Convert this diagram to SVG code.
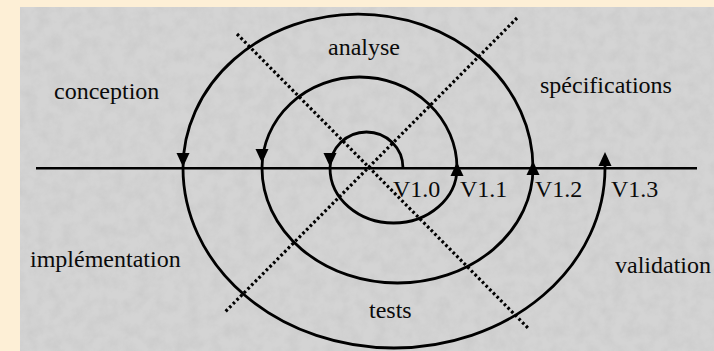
<svg xmlns="http://www.w3.org/2000/svg" width="714" height="351" viewBox="0 0 714 351">
  <style>
    .lbl { font-family: "Liberation Serif", "Times New Roman", serif; font-size: 24px; fill: #0a0a0a; }
    .spiral { fill: none; stroke: #000; stroke-width: 2.8; }
    .axis { stroke: #000; stroke-width: 2.6; }
    .dots { stroke: #000; stroke-width: 3.2; stroke-dasharray: 2.6 2.6; }
    .ah { fill: #000; }
  </style>
  <defs>
    <filter id="tex" x="0" y="0" width="100%" height="100%">
      <feTurbulence type="fractalNoise" baseFrequency="0.08" numOctaves="4" seed="4" result="n"/>
      <feColorMatrix type="matrix" in="n" values="0 0 0 0 0.55  0 0 0 0 0.55  0 0 0 0 0.55  0.9 0 0 0 -0.3" result="g"/>
      <feComposite in="g" in2="SourceGraphic" operator="in"/>
    </filter>
    <path id="arr" d="M0,0 L-6.5,-14 L6.5,-14 Z"/>
  </defs>
  <rect x="0" y="0" width="714" height="351" fill="#fdefd6"/>
  <rect x="20" y="7" width="694" height="344" fill="#d4d4d4"/>
  <rect x="20" y="7" width="694" height="344" fill="#d4d4d4" filter="url(#tex)"/>

  <g id="connectors">
    <line class="axis" x1="36" y1="168.3" x2="697" y2="168.3"/>
    <line class="dots" x1="237" y1="34" x2="528" y2="328"/>
    <line class="dots" x1="517" y1="18" x2="224" y2="313"/>
    <path id="spiral" class="spiral" d="M403,168 A36.5,36 0 0 0 330,168 A63.5,55 0 0 0 457,168 A97.5,91 0 0 0 262,168 A135.5,115 0 0 0 533,168 A175,154 0 0 0 183,168 A211,180 0 0 0 605,168 L605,160"/>
    <use href="#arr" class="ah" transform="translate(183,167)"/>
    <use href="#arr" class="ah" transform="translate(262,163)"/>
    <use href="#arr" class="ah" transform="translate(330,167)"/>
    <use href="#arr" class="ah" transform="translate(457,162) rotate(180)"/>
    <use href="#arr" class="ah" transform="translate(533,161) rotate(180)"/>
    <use href="#arr" class="ah" transform="translate(605,152) rotate(180)"/>
  </g>

  <g id="analyse"><text class="lbl" x="328" y="55">analyse</text></g>
  <g id="conception"><text class="lbl" x="54" y="99">conception</text></g>
  <g id="specifications"><text class="lbl" x="540" y="93">spécifications</text></g>
  <g id="implementation"><text class="lbl" x="30" y="267">implémentation</text></g>
  <g id="validation"><text class="lbl" x="615" y="273">validation</text></g>
  <g id="tests"><text class="lbl" x="369" y="318">tests</text></g>
  <g id="v10"><text class="lbl" x="393" y="197">V1.0</text></g>
  <g id="v11"><text class="lbl" x="460" y="197">V1.1</text></g>
  <g id="v12"><text class="lbl" x="535" y="197">V1.2</text></g>
  <g id="v13"><text class="lbl" x="611" y="197">V1.3</text></g>
</svg>
